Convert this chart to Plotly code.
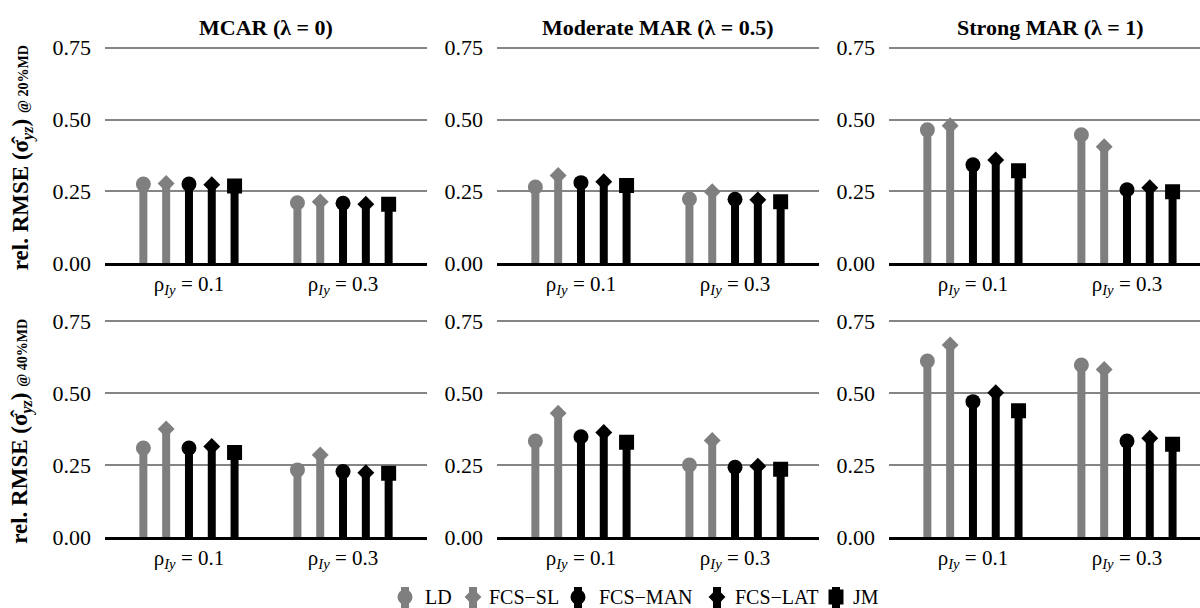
import plotly.graph_objects as go

# --- data -------------------------------------------------------------
methods = ["LD", "FCS−SL", "FCS−MAN", "FCS−LAT", "JM"]
method_colors = ["#7f7f7f", "#7f7f7f", "#000000", "#000000", "#000000"]
method_symbols = ["circle", "diamond", "circle", "diamond", "square"]
method_sizes = [15, 13, 15, 13, 15]

rho_labels = ["ρ<sub><i>Iy</i></sub> = 0.1", "ρ<sub><i>Iy</i></sub> = 0.3"]
mechanisms = ["MCAR (λ = 0)", "Moderate MAR (λ = 0.5)", "Strong MAR (λ = 1)"]
md_levels = ["20%MD", "40%MD"]
y_ticks = [0.0, 0.25, 0.5, 0.75]

# rel. RMSE per panel: [rho = 0.1 values, rho = 0.3 values], one value per method
mcar_20 = [[0.275, 0.277, 0.275, 0.273, 0.268], [0.210, 0.213, 0.208, 0.205, 0.205]]
mod_20 = [[0.265, 0.305, 0.280, 0.283, 0.270], [0.223, 0.248, 0.222, 0.220, 0.213]]
strong_20 = [[0.464, 0.478, 0.342, 0.359, 0.321], [0.447, 0.405, 0.255, 0.262, 0.248]]
mcar_40 = [[0.309, 0.375, 0.309, 0.314, 0.293], [0.233, 0.285, 0.227, 0.223, 0.221]]
mod_40 = [[0.333, 0.430, 0.348, 0.363, 0.329], [0.250, 0.335, 0.242, 0.246, 0.235]]
strong_40 = [[0.611, 0.667, 0.470, 0.501, 0.438], [0.597, 0.582, 0.333, 0.343, 0.322]]

panels = [[mcar_20, mod_20, strong_20], [mcar_40, mod_40, strong_40]]

# --- layout geometry (pixels of a 1200 x 608 page) --------------------
W, H = 1200, 608
FONT = "Liberation Serif, Times New Roman, serif"
col_px = [(105, 427), (497, 819), (889, 1200)]
x_ranges = [[0.455, 2.545], [0.455, 2.545], [0.455, 2.474]]
row_px = [(33.4, 263), (306.6, 537)]   # top / bottom pixel of each panel
y_range = [0, 0.8]
dodge = 0.148
stem_w = 8


def font(size):
    return dict(family=FONT, size=size, color="black")


fig = go.Figure()
layout = dict(
    width=W, height=H, margin=dict(l=0, r=0, t=0, b=0),
    paper_bgcolor="white", plot_bgcolor="white", showlegend=False,
    template="none", font=font(21),
)
annotations = []

for r in range(2):
    for c in range(3):
        k = r * 3 + c + 1
        xa, ya = ("x" if k == 1 else f"x{k}"), ("y" if k == 1 else f"y{k}")
        data = panels[r][c]
        for i, m in enumerate(methods):
            xs, ys, sx, sy = [], [], [], []
            for g in range(2):
                xpos = (g + 1) + (i - 2) * dodge
                v = data[g][i]
                sx += [xpos, xpos, None]
                sy += [0, v, None]
                xs.append(xpos)
                ys.append(v)
            fig.add_trace(go.Scatter(x=sx, y=sy, mode="lines", xaxis=xa, yaxis=ya,
                                     line=dict(color=method_colors[i], width=stem_w),
                                     hoverinfo="skip"))
            fig.add_trace(go.Scatter(x=xs, y=ys, mode="markers", xaxis=xa, yaxis=ya, name=m,
                                     marker=dict(color=method_colors[i], symbol=method_symbols[i],
                                                 size=method_sizes[i], line=dict(width=0))))
        x0, x1 = col_px[c]
        top, bot = row_px[r]
        layout["xaxis" if k == 1 else f"xaxis{k}"] = dict(
            domain=[x0 / W, x1 / W], range=x_ranges[c], anchor=ya,
            tickvals=[1, 2], ticktext=rho_labels, showgrid=False, zeroline=False,
            showline=True, linecolor="black", linewidth=2.5, ticks="",
            ticklabelstandoff=0, tickfont=font(21), automargin=False,
        )
        layout["yaxis" if k == 1 else f"yaxis{k}"] = dict(
            domain=[(H - bot) / H, (H - top) / H], range=y_range, anchor=xa,
            tickvals=y_ticks, ticktext=[f"{t:.2f}" for t in y_ticks],
            showgrid=True, gridcolor="#858585", gridwidth=2, zeroline=False,
            showline=False, ticks="", ticklabelstandoff=13,
            tickfont=font(22), automargin=False,
        )
        if r == 0:
            cx = (x0 + x1) / 2 if c < 2 else (889 + 1211) / 2
            annotations.append(dict(
                text=f"<b>{mechanisms[c]}</b>", xref="paper", yref="paper",
                x=cx / W, y=(H - 27) / H, showarrow=False, font=font(22),
                xanchor="center", yanchor="middle"))
    top, bot = row_px[r]
    annotations.append(dict(
        text=("<b>rel. RMSE (σ\u0302<sub><i>yz</i></sub>) "
              f"<span style='font-size:14px'>@ {md_levels[r]}</span></b>"),
        xref="paper", yref="paper", x=22 / W, y=(H - (top + bot) / 2 - 10) / H,
        textangle=-90, showarrow=False, font=font(23),
        xanchor="center", yanchor="middle"))

# --- legend strip along the bottom edge -------------------------------
key_x = [405, 473, 578, 717, 836]
label_x = [423, 487, 597, 733, 851]
layout["xaxis7"] = dict(domain=[0, 1], range=[0, W], visible=False, anchor="y7")
layout["yaxis7"] = dict(domain=[0, 24 / H], range=[0, 24], visible=False, anchor="x7")
for i, m in enumerate(methods):
    fig.add_trace(go.Scatter(x=[key_x[i], key_x[i]], y=[0, 21], mode="lines",
                             xaxis="x7", yaxis="y7", hoverinfo="skip",
                             line=dict(color=method_colors[i], width=stem_w)))
    fig.add_trace(go.Scatter(x=[key_x[i]], y=[11], mode="markers", xaxis="x7", yaxis="y7",
                             marker=dict(color=method_colors[i], symbol=method_symbols[i],
                                         size=method_sizes[i], line=dict(width=0)),
                             hoverinfo="skip"))
    annotations.append(dict(text=m, xref="x7", yref="y7", x=label_x[i], y=11,
                            showarrow=False, xanchor="left", yanchor="middle",
                            font=font(20)))

layout["annotations"] = annotations
fig.update_layout(**layout)
fig.write_html("out.html")
